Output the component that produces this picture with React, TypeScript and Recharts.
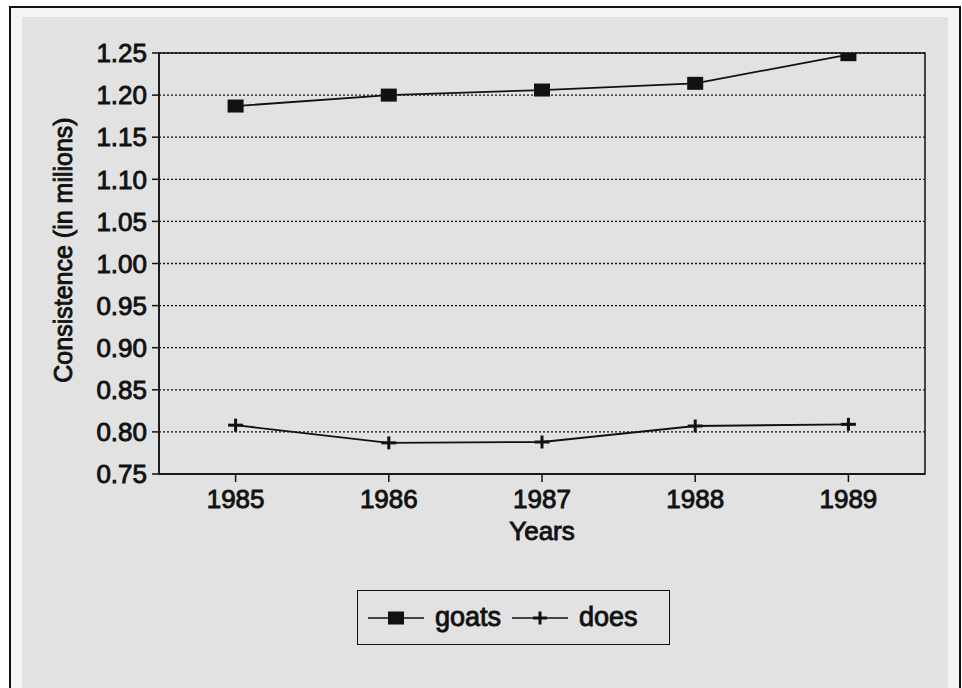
import React from 'react';
import { LineChart, Line, XAxis, YAxis, CartesianGrid, Legend, ReferenceArea } from 'recharts';

// values (millions)
const years = [1985, 1986, 1987, 1988, 1989];
const goats = [1.187, 1.2, 1.206, 1.214, 1.248];
const does = [0.808, 0.787, 0.788, 0.807, 0.809];
const yTicks = [0.75, 0.8, 0.85, 0.9, 0.95, 1.0, 1.05, 1.1, 1.15, 1.2, 1.25];
const seriesOrder = ['goats', 'does'];

const font = '"Liberation Sans", Arial, sans-serif';
const ink = '#111';
const paper = '#e2e2e2';
const heavy = { stroke: ink, strokeWidth: 0.9 };

const SquareDot = (props: any) => {
    const { cx, cy } = props;
    if (cx == null || cy == null) return null;
    return <rect x={cx - 8} y={cy - 6.5} width={16} height={13} fill={ink} />;
};

const PlusDot = (props: any) => {
    const { cx, cy } = props;
    if (cx == null || cy == null) return null;
    return (
        <g stroke={ink} strokeWidth={3}>
            <line x1={cx - 7.5} y1={cy} x2={cx + 7.5} y2={cy} />
            <line x1={cx} y1={cy - 6.5} x2={cx} y2={cy + 6.5} />
        </g>
    );
};

const LegendIcon = ({ kind }: { kind: string }) => (
    <svg width={56} height={20} style={{ display: 'block' }}>
        <line x1={0} y1={10} x2={56} y2={10} stroke={ink} strokeWidth={1.7} />
        {kind === 'goats' ? (
            <rect x={20} y={3.5} width={16} height={13} fill={ink} />
        ) : (
            <g stroke={ink} strokeWidth={3}>
                <line x1={21} y1={10} x2={35} y2={10} />
                <line x1={28} y1={3.5} x2={28} y2={16.5} />
            </g>
        )}
    </svg>
);

const LegendBox = (props: any) => {
    const items = [...(props.payload || [])].sort(
        (a: any, b: any) => seriesOrder.indexOf(a.dataKey) - seriesOrder.indexOf(b.dataKey)
    );
    return (
        <div
            style={{
                boxSizing: 'border-box',
                width: 313,
                height: 55,
                border: `1.5px solid ${ink}`,
                display: 'flex',
                alignItems: 'center',
                paddingLeft: 10,
                fontFamily: font,
                fontSize: 27,
                color: ink,
                WebkitTextStroke: '0.9px #111',
            }}
        >
            {items.map((it: any) => (
                <div key={it.value} style={{ display: 'flex', alignItems: 'center', marginRight: 11 }}>
                    <LegendIcon kind={it.dataKey} />
                    <span style={{ marginLeft: 11, lineHeight: '27px' }}>{it.value}</span>
                </div>
            ))}
        </div>
    );
};

const YTitle = () => (
    <text
        x={63}
        y={250}
        transform="rotate(-90 63 250)"
        textAnchor="middle"
        dominantBaseline="central"
        fontFamily={font}
        fontSize={25}
        fill={ink}
        {...heavy}
    >
        Consistence (in milions)
    </text>
);

export default function App() {
    const data = years.map((y, i) => ({ year: y, goats: goats[i], does: does[i] }));

    return (
        <div style={{ position: 'absolute', left: 0, top: 0, width: 962, height: 688, background: '#fff', overflow: 'hidden' }}>
            <div
                style={{
                    position: 'absolute',
                    left: 9,
                    top: 6,
                    width: 948,
                    height: 700,
                    border: `2px solid ${ink}`,
                    background: '#f4f4f4',
                }}
            />
            <div style={{ position: 'absolute', left: 22, top: 17, width: 926, height: 671, background: paper }} />
            <div style={{ position: 'absolute', left: 0, top: 0 }}>
                <LineChart width={962} height={688} data={data} margin={{ top: 53, right: 37, left: 0, bottom: 0 }}>
                    <CartesianGrid vertical={false} stroke={ink} strokeDasharray="2 2" strokeWidth={1.3} />
                    <ReferenceArea
                        x1={1984.5}
                        x2={1989.5}
                        y1={0.75}
                        y2={1.25}
                        fill="none"
                        fillOpacity={0}
                        stroke={ink}
                        strokeWidth={1.5}
                    />
                    <XAxis
                        dataKey="year"
                        type="number"
                        domain={[1984.5, 1989.5]}
                        ticks={years}
                        interval={0}
                        height={214}
                        tickSize={8}
                        tickMargin={8}
                        axisLine={{ stroke: ink, strokeWidth: 1.5 }}
                        tickLine={{ stroke: ink, strokeWidth: 1.5 }}
                        tick={{ fill: ink, fontSize: 26, fontFamily: font, ...heavy }}
                        label={{ value: 'Years', position: 'insideTop', offset: 48, fill: ink, fontSize: 26, fontFamily: font, ...heavy }}
                    />
                    <YAxis
                        width={159}
                        domain={[0.75, 1.25]}
                        ticks={yTicks}
                        interval={0}
                        allowDataOverflow
                        tickFormatter={(v: number) => v.toFixed(2)}
                        tickSize={7}
                        tickMargin={5}
                        axisLine={{ stroke: ink, strokeWidth: 1.5 }}
                        tickLine={{ stroke: ink, strokeWidth: 1.5 }}
                        tick={{ fill: ink, fontSize: 26, fontFamily: font, ...heavy }}
                        label={{ content: <YTitle /> }}
                    />
                    <Legend
                        verticalAlign="middle"
                        align="center"
                        layout="horizontal"
                        wrapperStyle={{ left: 357, top: 590, width: 313 }}
                        content={<LegendBox />}
                    />
                    <Line
                        dataKey="goats"
                        name="goats"
                        stroke={ink}
                        strokeWidth={1.8}
                        dot={<SquareDot />}
                        activeDot={false}
                        isAnimationActive={false}
                    />
                    <Line
                        dataKey="does"
                        name="does"
                        stroke={ink}
                        strokeWidth={1.8}
                        dot={<PlusDot />}
                        activeDot={false}
                        isAnimationActive={false}
                    />
                </LineChart>
            </div>
        </div>
    );
}
